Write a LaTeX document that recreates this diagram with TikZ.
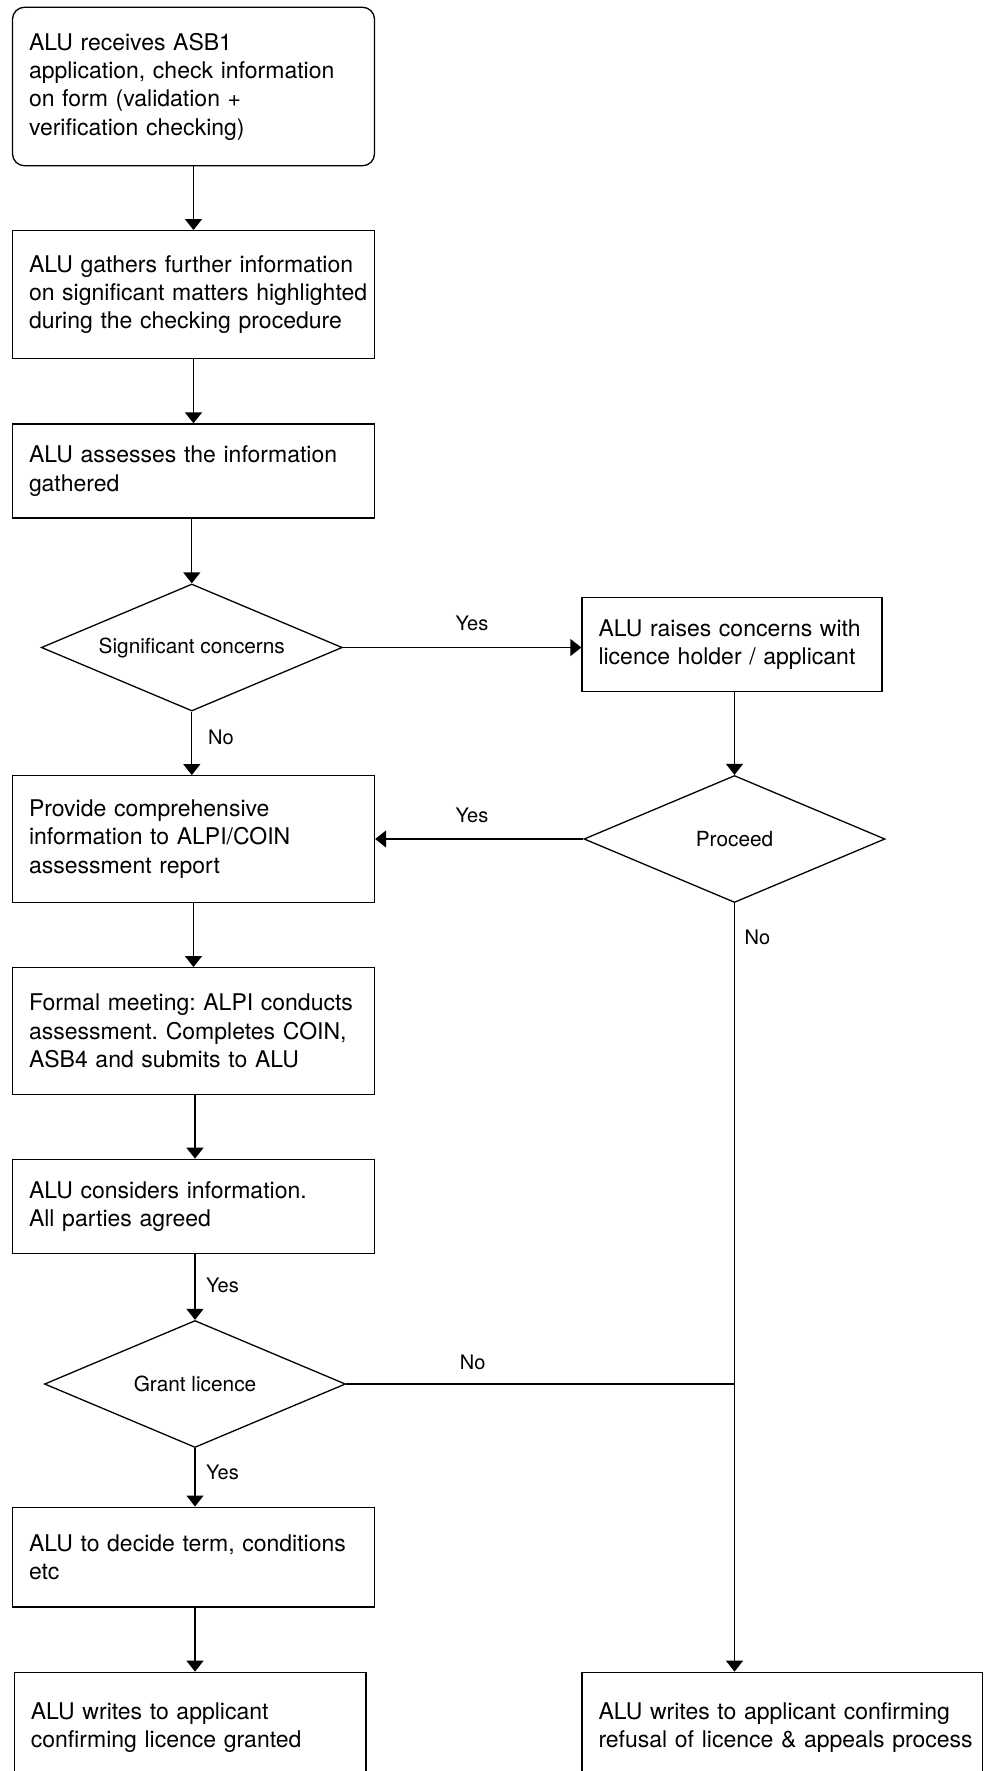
\documentclass[tikz,border=0pt]{standalone}
\usepackage{fontspec}
\setmainfont{TeX Gyre Heros}
\usetikzlibrary{shapes.geometric,arrows.meta}
\frenchspacing
\begin{document}
\begin{tikzpicture}[x=1pt,y=-1pt,
  box/.style={draw, rectangle, line width=1.3pt, inner xsep=16.5pt, inner ysep=0pt,
    align=left, font=\fontsize{23}{28.3}\selectfont},
  lbox/.style={box, text width=329pt, minimum height=#1},
  dia/.style={draw, diamond, shape aspect=2.37, minimum width=301pt, minimum height=127pt, inner sep=0pt,
    line width=1.3pt, font=\fontsize{20.8}{24}\selectfont},
  lab/.style={inner sep=0pt, font=\fontsize{20}{24}\selectfont},
  arr/.style={-{Triangle[width=17pt,length=11pt]}, line width=1.3pt},
  ln/.style={line width=1.3pt}
]
\useasboundingbox (0,0) rectangle (985,1771);
\clip (0,0) rectangle (985,1771);
\fill[white] (0,0) rectangle (985,1771);

% left column
\node[lbox=158.5pt, rounded corners=12pt] (b1) at (193.5,86.5)
  {\mbox{ALU receives ASB1}\\\mbox{application, check information}\\\mbox{on form (validation +}\\\mbox{verification checking)}};
\node[lbox=127.6pt] (b2) at (193.5,294.5)
  {\mbox{ALU gathers further information}\\\mbox{on significant matters highlighted}\\\mbox{during the checking procedure}};
\node[lbox=94pt] (b3) at (193.5,471)
  {\mbox{ALU assesses the information}\\\mbox{gathered}};
\node[dia] (d1) at (191.8,647.5) {Significant concerns};
\node[lbox=126.6pt] (b5) at (193.5,839)
  {\mbox{Provide comprehensive}\\\mbox{information to ALPI/COIN}\\\mbox{assessment report}};
\node[lbox=126.6pt] (b6) at (193.5,1031)
  {\mbox{Formal meeting: ALPI conducts}\\\mbox{assessment. Completes COIN,}\\\mbox{ASB4 and submits to ALU}};
\node[lbox=94.4pt] (b7) at (193.5,1206.5)
  {\mbox{ALU considers information.}\\\mbox{All parties agreed}};
\node[dia] (d3) at (195,1384) {Grant licence};
\node[lbox=99.7pt] (b8) at (193.5,1557)
  {\mbox{ALU to decide term, conditions}\\\mbox{etc}};
\node[box, text width=318.6pt, minimum height=110pt] (b9) at (190.2,1727.3)
  {\mbox{ALU writes to applicant}\\\mbox{confirming licence granted}};

% right column
\node[box, text width=267pt, minimum height=94.4pt] (b4) at (732,644.5)
  {\mbox{ALU raises concerns with}\\\mbox{licence holder / applicant}};
\node[dia] (d2) at (734.5,839) {Proceed};
\node[box, text width=367.4pt, minimum height=110pt] (b10) at (782.2,1727.3)
  {\mbox{ALU writes to applicant confirming}\\\mbox{refusal of licence \& appeals process}};

% labels
\node[lab] (y1) at (472,623) {Yes};
\node[lab, anchor=west] (n1) at (208,737.3) {No};
\node[lab] (y2) at (472,815) {Yes};
\node[lab, anchor=west] (n2) at (744.5,937.7) {No};
\node[lab, anchor=west] (y3) at (206,1285.7) {Yes};
\node[lab] (n3) at (472.7,1362.7) {No};
\node[lab, anchor=west] (y4) at (206,1472.3) {Yes};

% connectors
\draw[arr] (b1.south) -- (b2.north);
\draw[arr] (b2.south) -- (b3.north);
\draw[arr] (b3.south -| d1.north) -- (d1.north);
\draw[arr] (d1.south) -- (d1.south |- b5.north);
\draw[arr] (d1.east) -- (d1.east -| b4.west);
\draw[arr] (b4.south -| d2.north) -- (d2.north);
\draw[arr] (d2.west) -- (d2.west -| b5.east);
\draw[arr] (b5.south) -- (b6.north);
\draw[arr] (b6.south -| d3.north) -- (b7.north -| d3.north);
\draw[arr] (b7.south -| d3.north) -- (d3.north);
\draw[arr] (d3.south) -- (d3.south |- b8.north);
\draw[arr] (b8.south -| d3.south) -- (b9.north -| d3.south);
\draw[ln] (d3.east) -- (d3.east -| d2.south);
\draw[arr] (d2.south) -- (d2.south |- b10.north);
\end{tikzpicture}
\end{document}
